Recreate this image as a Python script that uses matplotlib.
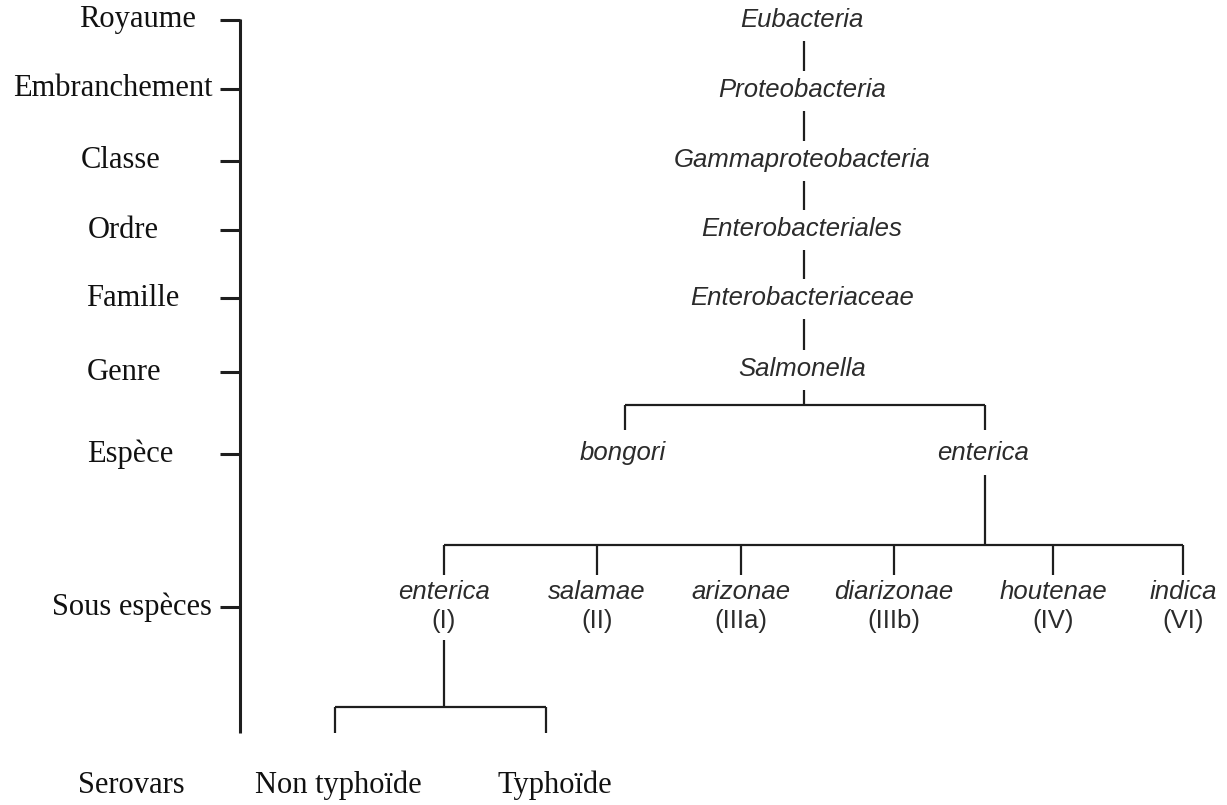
import matplotlib
matplotlib.use("Agg")
import matplotlib.pyplot as plt

# ---- data ----
ranks = ["Royaume", "Embranchement", "Classe", "Ordre", "Famille", "Genre",
         "Espèce", "Sous espèces"]
lineage = ["Eubacteria", "Proteobacteria", "Gammaproteobacteria",
           "Enterobacteriales", "Enterobacteriaceae", "Salmonella"]
species = ["bongori", "enterica"]
subspecies = ["enterica", "salamae", "arizonae", "diarizonae", "houtenae", "indica"]
subspecies_codes = ["(I)", "(II)", "(IIIa)", "(IIIb)", "(IV)", "(VI)"]
serovar_rank = "Serovars"
serovars = ["Non typhoïde", "Typhoïde"]

# ---- layout (pixel coordinates) ----
W, H = 1227, 805
rank_y = [20, 89, 161, 230, 298, 372, 454, 607]
rank_x = [137, 113, 121, 123, 133, 124, 130, 132]
lineage_y = [20, 90, 160, 229, 298, 369]
tree_x = 804
species_x = [625, 985]
species_y = 453
sub_x = [444, 597, 741, 894, 1053, 1183]
sub_name_y = 592
sub_code_y = 621
serovar_x = [335, 546]
serovar_lbl_x = [338, 555]
serovar_rank_x = 131
bottom_y = 785

fig = plt.figure(figsize=(W / 100, H / 100), dpi=100)
ax = fig.add_axes([0, 0, 1, 1])
ax.set_xlim(0, W)
ax.set_ylim(H, 0)
ax.axis("off")

serif = "Liberation Serif"
sans = "Liberation Sans"
lc = "#1e1e1e"
tc = "#2b2b2b"
lw_axis = 2.2
lw_tree = 1.6
fs_serif = 22
fs_sans = 18.5

def seg(x0, y0, x1, y1, lw=lw_tree):
    ax.plot([x0, x1], [y0, y1], color=lc, lw=lw, solid_capstyle="butt")

# left rank axis
seg(240, 19, 240, 733, lw_axis)
for name, x, y in zip(ranks, rank_x, rank_y):
    seg(220, y, 240, y, lw_axis)
    ax.text(x, y, name, family=serif, fontsize=fs_serif, ha="center", va="center",
            color="#111111")
ax.text(serovar_rank_x, bottom_y, serovar_rank, family=serif, fontsize=fs_serif,
        ha="center", va="center", color="#111111")
for name, x in zip(serovars, serovar_lbl_x):
    ax.text(x, bottom_y, name, family=serif, fontsize=fs_serif, ha="center",
            va="center", color="#111111")

# lineage chain
for i, (name, y) in enumerate(zip(lineage, lineage_y)):
    ax.text(tree_x - 2, y, name, family=sans, style="italic", fontsize=fs_sans,
            ha="center", va="center", color=tc)
    if i < len(lineage) - 1:
        seg(tree_x, y + 21, tree_x, lineage_y[i + 1] - 19)

# species split
seg(tree_x, 390, tree_x, 405)
seg(species_x[0], 405, species_x[1], 405)
for name, x in zip(species, species_x):
    seg(x, 405, x, 430)
    ax.text(x - 2, species_y, name, family=sans, style="italic", fontsize=fs_sans,
            ha="center", va="center", color=tc)

# subspecies split
seg(species_x[1], 475, species_x[1], 545)
seg(sub_x[0], 545, sub_x[-1], 545)
for name, code, x in zip(subspecies, subspecies_codes, sub_x):
    seg(x, 545, x, 575)
    ax.text(x, sub_name_y, name, family=sans, style="italic", fontsize=fs_sans,
            ha="center", va="center", color=tc)
    ax.text(x, sub_code_y, code, family=sans, fontsize=fs_sans,
            ha="center", va="center", color=tc)

# serovar split
seg(sub_x[0], 640, sub_x[0], 707)
seg(serovar_x[0], 707, serovar_x[1], 707)
for x in serovar_x:
    seg(x, 707, x, 733)

fig.savefig("out.png", dpi=100, facecolor="white")
